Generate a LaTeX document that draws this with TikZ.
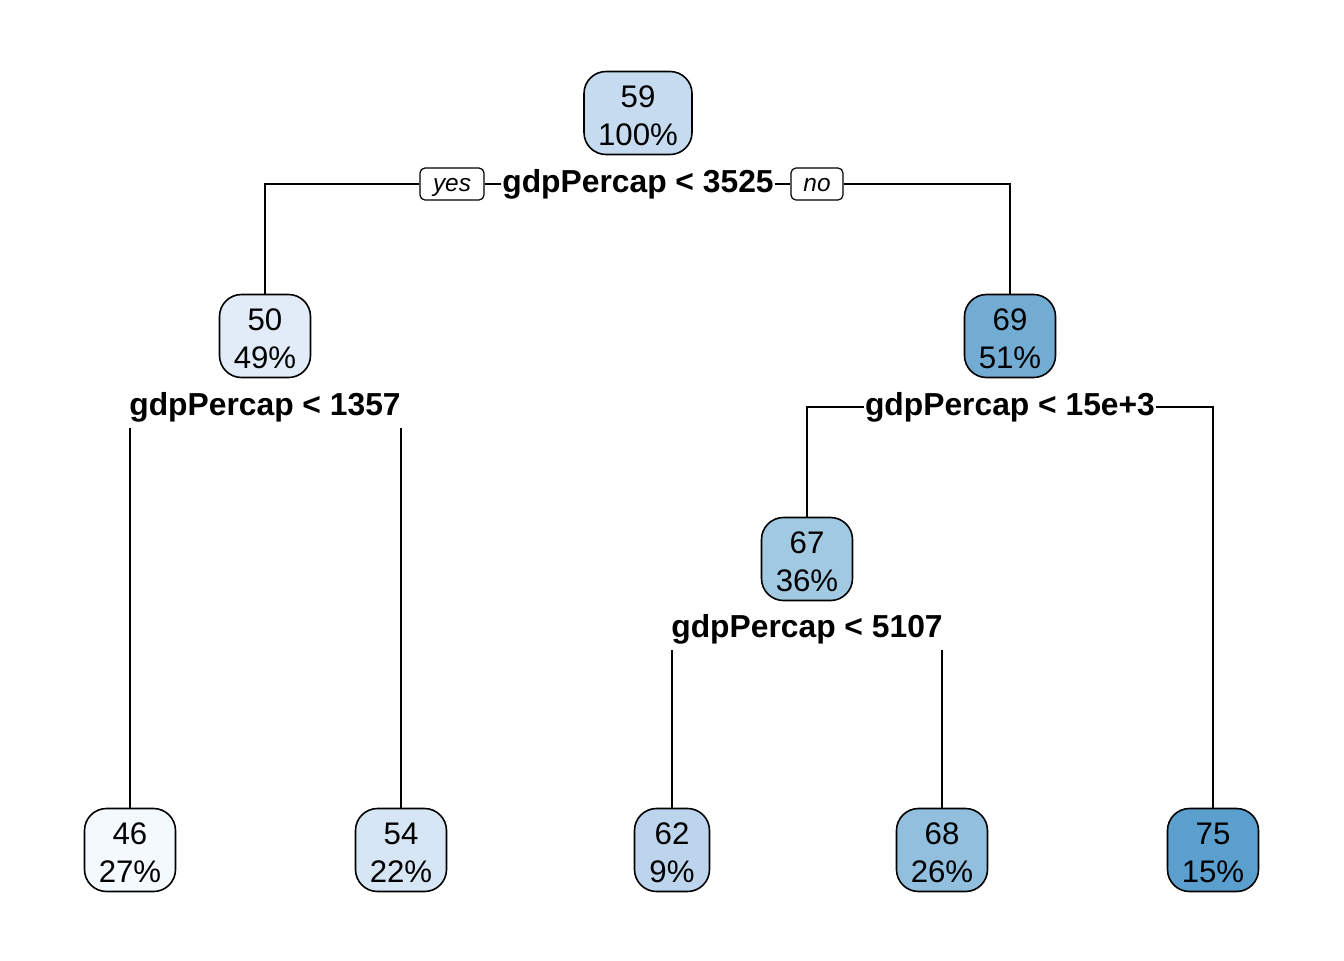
\documentclass[tikz,border=0pt]{standalone}
\usepackage{fontspec}
\setmainfont{Liberation Sans}
\newcommand{\tstrut}{\rule{0pt}{13.2pt}}
\newcommand{\ystrut}{\rule[-3pt]{0pt}{13.5pt}}
\begin{document}
\begin{tikzpicture}[x=0.5pt,y=-0.5pt,
  leaf/.style={draw=black, line width=0.8pt, rounded corners=11pt, align=center,
    minimum width=45.5pt, minimum height=41.5pt, inner sep=0pt,
    font=\fontsize{15.6}{19}\selectfont},
  splitlab/.style={font=\fontsize{15.9}{19}\selectfont\bfseries, inner xsep=0.5pt, inner ysep=3pt},
  yn/.style={draw=black, line width=0.6pt, rounded corners=2.5pt, minimum height=16pt, inner sep=0pt,
    font=\fontsize{12.2}{14}\selectfont\itshape},
  conn/.style={line width=0.7pt}]
\useasboundingbox (0,0) rectangle (1344,960);
\definecolor{cRoot}{RGB}{198,219,239}
\definecolor{cA}{RGB}{225,236,248}
\definecolor{cB}{RGB}{115,172,211}
\definecolor{cC}{RGB}{162,201,226}
\definecolor{cL1}{RGB}{244,249,254}
\definecolor{cL2}{RGB}{215,230,244}
\definecolor{cL3}{RGB}{188,213,236}
\definecolor{cL4}{RGB}{145,191,221}
\definecolor{cL5}{RGB}{90,159,205}

% nodes
\node[leaf, fill=cRoot, minimum width=54pt] (root) at (638,113) {\tstrut 59\\100\%};
\node[leaf, fill=cA] (n50) at (265,336) {\tstrut 50\\49\%};
\node[leaf, fill=cB] (n69) at (1010,336) {\tstrut 69\\51\%};
\node[leaf, fill=cC] (n67) at (807,559) {\tstrut 67\\36\%};
\node[leaf, fill=cL1] (l46) at (130,850) {\tstrut 46\\27\%};
\node[leaf, fill=cL2] (l54) at (401,850) {\tstrut 54\\22\%};
\node[leaf, fill=cL3, minimum width=37.5pt] (l62) at (672,850) {\tstrut 62\\9\%};
\node[leaf, fill=cL4] (l68) at (942,850) {\tstrut 68\\26\%};
\node[leaf, fill=cL5] (l75) at (1213,850) {\tstrut 75\\15\%};

% split labels
\node[splitlab] (s1) at (638,184) {gdpPercap < 3525};
\node[splitlab] (s2) at (265,407) {gdpPercap < 1357};
\node[splitlab] (s3) at (1010,407) {gdpPercap < 15e+3};
\node[splitlab] (s4) at (807,629) {gdpPercap < 5107};

% yes / no
\node[yn, minimum width=32pt] (yes) at (452,184) {\ystrut yes};
\node[yn, minimum width=26pt] (no) at (817,184) {\ystrut no};

% connectors
\draw[conn] (yes.west) -| (n50.north);
\draw[conn] (yes.east) -- (s1.west);
\draw[conn] (s1.east) -- (no.west);
\draw[conn] (no.east) -| (n69.north);

\draw[conn] (l46.north |- s2.south) -- (l46.north);
\draw[conn] (l54.north |- s2.south) -- (l54.north);

\draw[conn] (s3.west) -| (n67.north);
\draw[conn] (s3.east) -| (l75.north);

\draw[conn] (l62.north |- s4.south) -- (l62.north);
\draw[conn] (l68.north |- s4.south) -- (l68.north);
\end{tikzpicture}
\end{document}
